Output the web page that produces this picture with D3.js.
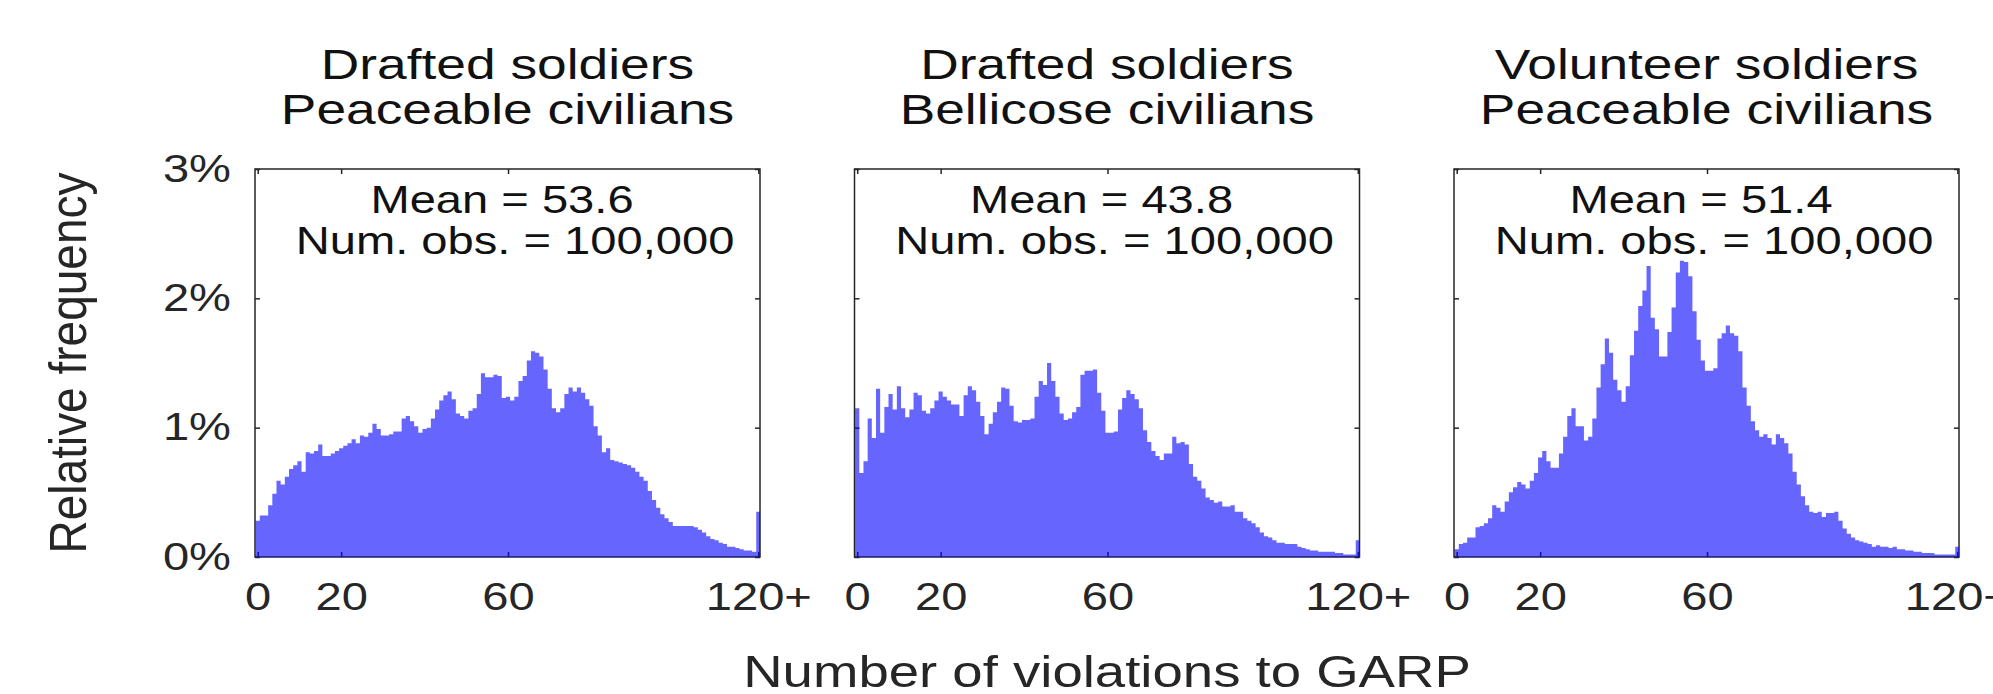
<!DOCTYPE html>
<html>
<head>
<meta charset="utf-8">
<script src="https://cdn.jsdelivr.net/npm/d3@7"></script>
<style>
  html, body { margin: 0; padding: 0; background: #fff; }
  svg { display: block; }
  text { font-family: "Liberation Sans", Arial, Helvetica, sans-serif; }
</style>
</head>
<body>
<div id="chart"></div>
<script>
// relative frequency (%) per number of GARP violations, bins 0..119 and "120+"
const draftedPeaceable = [
  0.28, 0.32, 0.32, 0.40, 0.49, 0.59, 0.56, 0.62, 0.68, 0.71,
  0.74, 0.66, 0.81, 0.80, 0.82, 0.87, 0.78, 0.78, 0.80, 0.82,
  0.84, 0.86, 0.88, 0.91, 0.88, 0.94, 0.93, 0.96, 1.03, 0.99,
  0.94, 0.94, 0.95, 0.97, 0.97, 1.07, 1.09, 1.05, 1.01, 0.96,
  0.99, 1.00, 1.07, 1.14, 1.21, 1.25, 1.28, 1.22, 1.11, 1.09,
  1.07, 1.13, 1.15, 1.26, 1.42, 1.39, 1.39, 1.41, 1.40, 1.23,
  1.24, 1.21, 1.24, 1.36, 1.40, 1.52, 1.59, 1.58, 1.55, 1.45,
  1.30, 1.15, 1.12, 1.15, 1.26, 1.31, 1.28, 1.31, 1.27, 1.22,
  1.17, 1.01, 0.94, 0.81, 0.84, 0.75, 0.74, 0.73, 0.72, 0.71,
  0.69, 0.66, 0.62, 0.59, 0.51, 0.44, 0.38, 0.33, 0.30, 0.27,
  0.24, 0.24, 0.24, 0.24, 0.24, 0.23, 0.21, 0.19, 0.16, 0.14,
  0.13, 0.11, 0.10, 0.08, 0.08, 0.07, 0.06, 0.05, 0.05, 0.04,
  0.35
]
const draftedBellicose = [
  1.15, 0.65, 0.74, 1.07, 0.92, 1.30, 0.96, 1.16, 1.26, 1.14,
  1.32, 1.15, 1.08, 1.14, 1.27, 1.25, 1.13, 1.11, 1.15, 1.21,
  1.28, 1.24, 1.21, 1.18, 1.18, 1.09, 1.25, 1.32, 1.29, 1.20,
  1.09, 0.95, 1.03, 1.12, 1.20, 1.31, 1.30, 1.17, 1.05, 1.04,
  1.06, 1.06, 1.07, 1.24, 1.36, 1.33, 1.50, 1.36, 1.24, 1.11,
  1.06, 1.07, 1.12, 1.16, 1.41, 1.44, 1.44, 1.45, 1.27, 1.13,
  0.96, 0.96, 0.97, 1.14, 1.23, 1.29, 1.26, 1.22, 1.15, 0.98,
  0.89, 0.82, 0.78, 0.75, 0.80, 0.80, 0.93, 0.88, 0.89, 0.87,
  0.72, 0.62, 0.59, 0.53, 0.46, 0.44, 0.42, 0.43, 0.39, 0.39,
  0.40, 0.35, 0.35, 0.30, 0.28, 0.26, 0.23, 0.19, 0.16, 0.15,
  0.13, 0.11, 0.11, 0.10, 0.10, 0.10, 0.08, 0.07, 0.06, 0.05,
  0.05, 0.04, 0.04, 0.04, 0.04, 0.03, 0.03, 0.02, 0.02, 0.02,
  0.13
]
const volunteerPeaceable = [
  0.06, 0.10, 0.11, 0.15, 0.15, 0.23, 0.24, 0.26, 0.30, 0.40,
  0.38, 0.35, 0.43, 0.50, 0.54, 0.58, 0.56, 0.53, 0.59, 0.65,
  0.77, 0.82, 0.74, 0.69, 0.69, 0.80, 0.93, 1.09, 1.15, 1.01,
  1.01, 0.90, 0.93, 1.07, 1.31, 1.49, 1.69, 1.58, 1.37, 1.29,
  1.20, 1.32, 1.56, 1.75, 1.94, 2.06, 2.25, 1.85, 1.76, 1.55,
  1.55, 1.74, 1.93, 2.20, 2.29, 2.28, 2.17, 1.90, 1.68, 1.52,
  1.44, 1.44, 1.46, 1.69, 1.73, 1.79, 1.73, 1.71, 1.59, 1.31,
  1.17, 1.05, 0.98, 0.93, 0.95, 0.92, 0.87, 0.95, 0.92, 0.88,
  0.80, 0.66, 0.56, 0.47, 0.40, 0.35, 0.34, 0.35, 0.31, 0.34,
  0.34, 0.35, 0.28, 0.22, 0.18, 0.15, 0.13, 0.12, 0.11, 0.10,
  0.08, 0.09, 0.08, 0.08, 0.07, 0.08, 0.06, 0.06, 0.05, 0.05,
  0.04, 0.04, 0.03, 0.03, 0.03, 0.02, 0.02, 0.02, 0.02, 0.02,
  0.08
]

const panelTitles = [
  ["Drafted soldiers", "Peaceable civilians"],
  ["Drafted soldiers", "Bellicose civilians"],
  ["Volunteer soldiers", "Peaceable civilians"]
]
const panelMeans = [53.6, 43.8, 51.4]
const panelObs = [100000, 100000, 100000]
const panelSeries = [draftedPeaceable, draftedBellicose, volunteerPeaceable]

const xTicks = [0, 20, 60, 120]
const xTickLabels = ["0", "20", "60", "120+"]
const yTicks = [0, 1, 2, 3]

// layout
const width = 1993, height = 694
const sx = 1.24 // the source figure is stretched horizontally, so is its text
const plotLeft = 255, plotTop = 169
const panelW = 505, panelH = 388, panelStep = 599.5
const ink = "#262626"

const svg = d3.select("#chart")
  .append("svg")
  .attr("width", width)
  .attr("height", height)
  .attr("viewBox", [0, 0, width, height])

const x = d3.scaleLinear().domain([-0.65, 120.4]).range([0, panelW])
const y = d3.scaleLinear().domain([0, 3]).range([panelH, 0])

const area = d3.area()
  .curve(d3.curveStepAfter)
  .x(d => x(d.bin - 0.5))
  .y0(y(0))
  .y1(d => y(d.value))

function stretchText(sel) {
  sel.selectAll(".tick text").each(function() {
    const t = d3.select(this)
    const tx = +t.attr("x") || 0
    const ty = +t.attr("y") || 0
    t.attr("x", 0).attr("y", 0)
      .attr("transform", `translate(${tx},${ty}) scale(${sx},1)`)
  })
}

function styleAxis(sel) {
  sel.select(".domain").remove()
  sel.selectAll(".tick line").attr("stroke", ink).attr("stroke-width", 1.5)
  sel.selectAll(".tick text").attr("fill", ink).style("font-size", "38px")
  stretchText(sel)
}

panelSeries.forEach((series, i) => {
  const g = svg.append("g")
    .attr("transform", `translate(${plotLeft + i * panelStep},${plotTop})`)

  g.append("clipPath")
    .attr("id", "clip" + i)
    .append("rect")
    .attr("width", panelW)
    .attr("height", panelH)

  // titulo
  const cx = panelW / 2
  panelTitles[i].forEach((line, k) => {
    g.append("text")
      .attr("transform", `translate(${cx},${-90 + k * 45}) scale(${sx},1)`)
      .attr("text-anchor", "middle")
      .style("font-size", "43px")
      .attr("fill", "#111")
      .text(line)
  })

  // caja
  g.append("rect")
    .attr("width", panelW)
    .attr("height", panelH)
    .attr("fill", "none")
    .attr("stroke", ink)
    .attr("stroke-width", 1.5)

  g.append("g")
    .call(d3.axisTop(x).tickValues(xTicks).tickSizeInner(-5).tickSizeOuter(0).tickFormat(""))
    .call(styleAxis)

  g.append("g")
    .attr("transform", `translate(0,${panelH})`)
    .call(d3.axisBottom(x).tickValues(xTicks).tickSizeInner(-5).tickSizeOuter(0)
      .tickPadding(26).tickFormat((d, k) => xTickLabels[k]))
    .call(styleAxis)

  g.append("g")
    .call(d3.axisLeft(y).tickValues(yTicks).tickSizeInner(-5).tickSizeOuter(0)
      .tickPadding(24).tickFormat(i === 0 ? d => d + "%" : ""))
    .call(styleAxis)

  g.append("g")
    .attr("transform", `translate(${panelW},0)`)
    .call(d3.axisRight(y).tickValues(yTicks).tickSizeInner(-5).tickSizeOuter(0).tickFormat(""))
    .call(styleAxis)

  // histograma (azul con alpha 0.6, encima del eje)
  const pts = series.map((v, k) => ({ bin: k, value: v }))
  pts.push({ bin: series.length, value: series[series.length - 1] })
  g.append("path")
    .datum(pts)
    .attr("clip-path", `url(#clip${i})`)
    .attr("fill", "#0000ff")
    .attr("fill-opacity", 0.6)
    .attr("d", area)

  // anotacion
  g.append("text")
    .attr("transform", `translate(${cx - 5.5},44) scale(${sx},1)`)
    .attr("text-anchor", "middle")
    .style("font-size", "38px")
    .attr("fill", "#111")
    .text("Mean = " + d3.format(".1f")(panelMeans[i]))
  g.append("text")
    .attr("transform", `translate(${cx + 7.5},85) scale(${sx},1)`)
    .attr("text-anchor", "middle")
    .style("font-size", "38px")
    .attr("fill", "#111")
    .text("Num. obs. = " + d3.format(",")(panelObs[i]))
})

// etiquetas de ejes
svg.append("text")
  .attr("transform", `translate(86,${plotTop + panelH / 2}) scale(1.12,1) rotate(-90)`)
  .attr("text-anchor", "middle")
  .style("font-size", "46px")
  .attr("fill", ink)
  .text("Relative frequency")

svg.append("text")
  .attr("transform", `translate(${plotLeft + panelStep + panelW / 2},687) scale(${sx},1)`)
  .attr("text-anchor", "middle")
  .style("font-size", "44px")
  .attr("fill", ink)
  .text("Number of violations to GARP")
</script>
</body>
</html>
